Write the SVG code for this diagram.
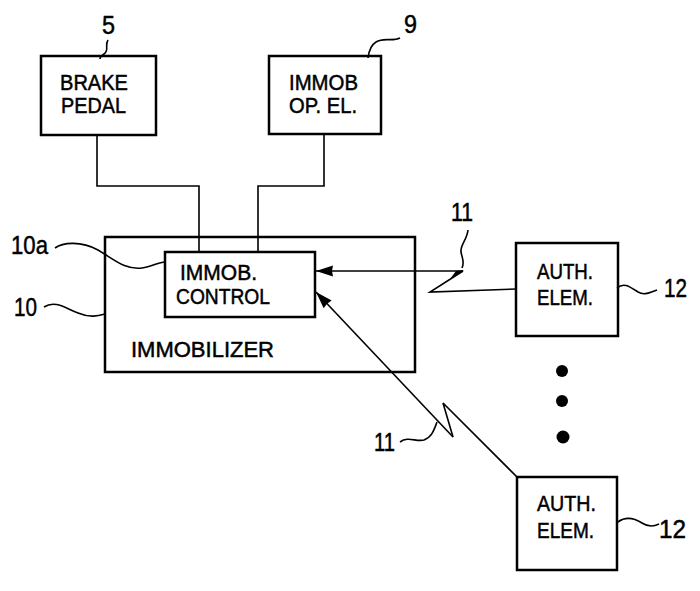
<svg xmlns="http://www.w3.org/2000/svg" width="700" height="591" viewBox="0 0 700 591">
<style>
.box{fill:none;stroke:#000;stroke-width:2.5}
.ln{fill:none;stroke:#000;stroke-width:1.6}
.ld{fill:none;stroke:#000;stroke-width:1.6}
text{font-family:"Liberation Sans",Arial,sans-serif;fill:#000;stroke:#000;stroke-width:0.5}
.t{font-size:22px}
.n{font-size:26px}
</style>
<defs>
<marker id="ah" markerUnits="userSpaceOnUse" markerWidth="20" markerHeight="12" refX="18" refY="6" orient="auto">
<path d="M18,6 L1,0.5 L2,6 L1,11.5 Z" fill="#000"/>
</marker>
</defs>
<rect width="700" height="591" fill="#fff"/>

<g id="brake">
<rect class="box" x="41" y="56" width="115" height="79"/>
<text class="t" x="60" y="90" textLength="68" lengthAdjust="spacingAndGlyphs">BRAKE</text>
<text class="t" x="61" y="113" textLength="65" lengthAdjust="spacingAndGlyphs">PEDAL</text>
<text class="n" x="102" y="34" textLength="13" lengthAdjust="spacingAndGlyphs">5</text>
<path class="ld" d="M108,40 C104,46 110,50 104,54 C101,56 100,57 100,59"/>
</g>

<g id="immobop">
<rect class="box" x="269" y="56" width="112" height="78"/>
<text class="t" x="289" y="90" textLength="69" lengthAdjust="spacingAndGlyphs">IMMOB</text>
<text class="t" x="289" y="113" textLength="68" lengthAdjust="spacingAndGlyphs">OP. EL.</text>
<text class="n" x="404" y="33" textLength="13" lengthAdjust="spacingAndGlyphs">9</text>
<path class="ld" d="M400,38 C392,42 384,37 376,42 C371,45 369,50 368,58"/>
</g>

<g id="immobilizer">
<rect class="box" x="105" y="237" width="310" height="135"/>
<text class="t" x="131" y="357" textLength="143" lengthAdjust="spacingAndGlyphs">IMMOBILIZER</text>
<text class="n" x="11" y="254" textLength="37" lengthAdjust="spacingAndGlyphs">10a</text>
<path class="ld" d="M55,248 C62,243 80,240 98,250 C115,260 125,270 142,268 C152,267 158,262 165,262"/>
<text class="n" x="14" y="316" textLength="23" lengthAdjust="spacingAndGlyphs">10</text>
<path class="ld" d="M44,307 C55,300 65,308 78,313 C90,318 98,316 105,314"/>
</g>

<g id="control">
<rect class="box" x="165" y="252" width="150" height="65"/>
<text class="t" x="180" y="280" textLength="77" lengthAdjust="spacingAndGlyphs">IMMOB.</text>
<text class="t" x="176" y="304" textLength="94" lengthAdjust="spacingAndGlyphs">CONTROL</text>
</g>

<g id="auth1">
<rect class="box" x="516" y="243" width="102" height="93"/>
<text class="t" x="537" y="279" textLength="56" lengthAdjust="spacingAndGlyphs">AUTH.</text>
<text class="t" x="537" y="305" textLength="56" lengthAdjust="spacingAndGlyphs">ELEM.</text>
<text class="n" x="664" y="297" textLength="23" lengthAdjust="spacingAndGlyphs">12</text>
<path class="ld" d="M617,288 C624,282 630,287 638,292 C645,296 650,292 657,290"/>
</g>

<g id="auth2">
<rect class="box" x="517" y="477" width="100" height="93"/>
<text class="t" x="537" y="511" textLength="59" lengthAdjust="spacingAndGlyphs">AUTH.</text>
<text class="t" x="537" y="538" textLength="57" lengthAdjust="spacingAndGlyphs">ELEM.</text>
<text class="n" x="659" y="538" textLength="27" lengthAdjust="spacingAndGlyphs">12</text>
<path class="ld" d="M618,522 C626,516 634,518 642,523 C648,527 653,527 659,524"/>
</g>

<g id="dots">
<circle cx="562" cy="371" r="6"/>
<circle cx="562" cy="401" r="6"/>
<circle cx="563" cy="437" r="6.5"/>
</g>

<g id="connectors">
<path class="ln" d="M463,271 H316" marker-end="url(#ah)"/>
<path class="ln" d="M97,135 V186 H199 V252"/>
<path class="ln" d="M324,134 V186 H258 V252"/>
<path class="ln" d="M463,271 L430,292 L517,289"/>
<path d="M456,271 L464,270 L450,279 Z" fill="#000"/>
<path class="ln" d="M453,437 L316,292" marker-end="url(#ah)"/>
<path class="ln" d="M453,437 L443,403 L517,477"/>
<text class="n" x="451" y="221" textLength="22" lengthAdjust="spacingAndGlyphs">11</text>
<path class="ld" d="M468,230 C467,240 460,245 461,252 C462,258 465,262 462,268"/>
<text class="n" x="374" y="451" textLength="21" lengthAdjust="spacingAndGlyphs">11</text>
<path class="ld" d="M400,442 C408,436 416,442 424,440 C432,437 434,430 437,422"/>
</g>
</svg>
